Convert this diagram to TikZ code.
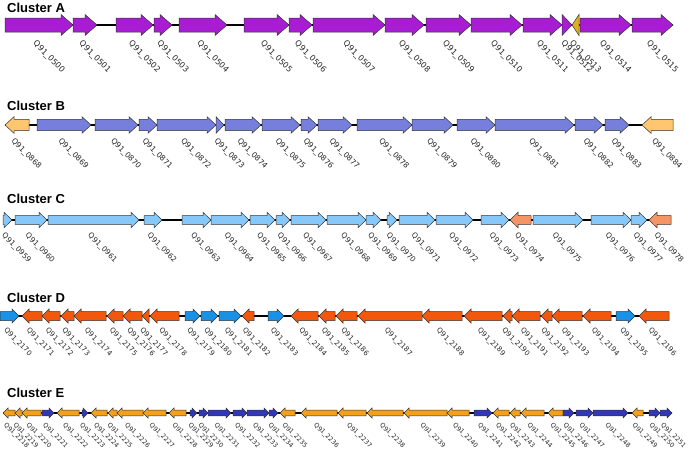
\documentclass[tikz,border=0pt]{standalone}
\usepackage{fontspec}
\setmainfont{DejaVu Sans}
\newfontfamily\titlefont{Liberation Sans}
\usetikzlibrary{positioning}
\definecolor{PurpleA}{RGB}{168, 28, 212}
\definecolor{GoldA}{RGB}{222, 176, 30}
\definecolor{BlueB}{RGB}{118, 128, 220}
\definecolor{TanB}{RGB}{255, 198, 112}
\definecolor{SkyC}{RGB}{135, 200, 250}
\definecolor{SalmonC}{RGB}{245, 148, 100}
\definecolor{OrangeD}{RGB}{242, 88, 12}
\definecolor{BlueD}{RGB}{25, 145, 230}
\definecolor{OrangeE}{RGB}{245, 160, 25}
\definecolor{NavyE}{RGB}{50, 55, 185}

% row settings: centre y, body half height, head half height, head length, label size
\newcommand{\setrow}[5]{\def\rowy{#1}\def\bodyh{#2}\def\headh{#3}\def\headlen{#4}\def\lblsize{#5}}
% forward gene: start, end, colour, number
\newcommand{\fgene}[4]{%
  \pgfmathsetmacro{\hx}{max(#1,#2-\headlen)}
  \filldraw[gene, fill=#3] (#1,\rowy-\bodyh) -- (\hx,\rowy-\bodyh) -- (\hx,\rowy-\headh) -- (#2,\rowy)
    -- (\hx,\rowy+\headh) -- (\hx,\rowy+\bodyh) -- (#1,\rowy+\bodyh) -- cycle;
  \node[lbl] (g#4) at ({(#1+#2)/2-2},\rowy+\headh+4) {Q91\_#4};}
% reverse gene: start, end, colour, number
\newcommand{\rgene}[4]{%
  \pgfmathsetmacro{\hx}{min(#2,#1+\headlen)}
  \filldraw[gene, fill=#3] (#1,\rowy) -- (\hx,\rowy-\headh) -- (\hx,\rowy-\bodyh) -- (#2,\rowy-\bodyh)
    -- (#2,\rowy+\bodyh) -- (\hx,\rowy+\bodyh) -- (\hx,\rowy+\headh) -- cycle;
  \node[lbl] (g#4) at ({(#1+#2)/2-2},\rowy+\headh+4) {Q91\_#4};}

\begin{document}
\begin{tikzpicture}[x=1pt, y=-1pt,
    gene/.style={draw=black!80, line width=0.5pt, line join=miter},
    lbl/.style={rotate=-45, anchor=north west, inner sep=0pt, text=black!85,
      font=\fontsize{\lblsize}{\lblsize}\selectfont},
    title/.style={anchor=base west, inner sep=0pt, font=\titlefont\fontsize{13}{13}\selectfont\bfseries},
    backbone/.style={line width=1.2pt, black}
  ]
  \useasboundingbox (0,0) rectangle (696,458);

  % Cluster A
  \node[title] (titleA) at (7,12) {Cluster A};
  \setrow{25}{7}{10.5}{12}{8}
  \coordinate (Astart) at (5,\rowy);
  \coordinate (Aend) at (673,\rowy);
  \draw[backbone] (Astart) -- (Aend);
  \fgene{5}{73}{PurpleA}{0500}
  \fgene{73}{97}{PurpleA}{0501}
  \fgene{116}{153}{PurpleA}{0502}
  \fgene{154}{172}{PurpleA}{0503}
  \fgene{179}{227}{PurpleA}{0504}
  \fgene{244}{289}{PurpleA}{0505}
  \fgene{289}{312}{PurpleA}{0506}
  \fgene{313}{385}{PurpleA}{0507}
  \fgene{385}{424}{PurpleA}{0508}
  \fgene{426}{471}{PurpleA}{0509}
  \fgene{471}{522}{PurpleA}{0510}
  \fgene{523}{562}{PurpleA}{0511}
  \fgene{562}{572}{PurpleA}{0512}
  \rgene{572}{579}{GoldA}{0513}
  \fgene{580}{631}{PurpleA}{0514}
  \fgene{632}{673}{PurpleA}{0515}

  % Cluster B
  \node[title] (titleB) at (7,110) {Cluster B};
  \setrow{125}{5.7}{8.3}{9}{7.6}
  \coordinate (Bstart) at (5,\rowy);
  \coordinate (Bend) at (673,\rowy);
  \draw[backbone] (Bstart) -- (Bend);
  \rgene{5}{29}{TanB}{0868}
  \fgene{37}{91}{BlueB}{0869}
  \fgene{95}{138}{BlueB}{0870}
  \fgene{139}{157}{BlueB}{0871}
  \fgene{157}{216}{BlueB}{0872}
  \fgene{216}{224}{BlueB}{0873}
  \fgene{225}{261}{BlueB}{0874}
  \fgene{262}{300}{BlueB}{0875}
  \fgene{301}{317}{BlueB}{0876}
  \fgene{318}{352}{BlueB}{0877}
  \fgene{357}{412}{BlueB}{0878}
  \fgene{412}{453}{BlueB}{0879}
  \fgene{457}{495}{BlueB}{0880}
  \fgene{495}{574}{BlueB}{0881}
  \fgene{575}{603}{BlueB}{0882}
  \fgene{605}{629}{BlueB}{0883}
  \rgene{642}{673}{TanB}{0884}

  % Cluster C
  \node[title] (titleC) at (7,203) {Cluster C};
  \setrow{220}{4.4}{7.8}{8}{7.4}
  \coordinate (Cstart) at (3,\rowy);
  \coordinate (Cend) at (671,\rowy);
  \draw[backbone] (Cstart) -- (Cend);
  \fgene{3}{12}{SkyC}{0959}
  \fgene{15}{47}{SkyC}{0960}
  \fgene{48}{139}{SkyC}{0961}
  \fgene{144}{162}{SkyC}{0962}
  \fgene{182}{211}{SkyC}{0963}
  \fgene{211}{249}{SkyC}{0964}
  \fgene{250}{275}{SkyC}{0965}
  \fgene{276}{290}{SkyC}{0966}
  \fgene{291}{326}{SkyC}{0967}
  \fgene{327}{366}{SkyC}{0968}
  \fgene{366}{381}{SkyC}{0969}
  \fgene{387}{397}{SkyC}{0970}
  \fgene{399}{435}{SkyC}{0971}
  \fgene{436}{473}{SkyC}{0972}
  \fgene{481}{509}{SkyC}{0973}
  \rgene{510}{531}{SalmonC}{0974}
  \fgene{533}{583}{SkyC}{0975}
  \fgene{591}{631}{SkyC}{0976}
  \fgene{631}{647}{SkyC}{0977}
  \rgene{649}{671}{SalmonC}{0978}

  % Cluster D
  \node[title] (titleD) at (7,302) {Cluster D};
  \setrow{316}{4.5}{7}{7}{7}
  \coordinate (Dstart) at (0,\rowy);
  \coordinate (Dend) at (669,\rowy);
  \draw[backbone] (Dstart) -- (Dend);
  \fgene{0}{19}{BlueD}{2170}
  \rgene{22}{42}{OrangeD}{2171}
  \rgene{42}{60}{OrangeD}{2172}
  \rgene{61}{74}{OrangeD}{2173}
  \rgene{74}{106}{OrangeD}{2174}
  \rgene{107}{123}{OrangeD}{2175}
  \rgene{123}{142}{OrangeD}{2176}
  \rgene{142}{149}{OrangeD}{2177}
  \rgene{150}{179}{OrangeD}{2178}
  \fgene{185}{200}{BlueD}{2179}
  \fgene{201}{218}{BlueD}{2180}
  \fgene{219}{241}{BlueD}{2181}
  \rgene{242}{254}{OrangeD}{2182}
  \fgene{268}{284}{BlueD}{2183}
  \rgene{291}{318}{OrangeD}{2184}
  \rgene{319}{335}{OrangeD}{2185}
  \rgene{336}{357}{OrangeD}{2186}
  \rgene{358}{422}{OrangeD}{2187}
  \rgene{422}{462}{OrangeD}{2188}
  \rgene{464}{502}{OrangeD}{2189}
  \rgene{503}{512}{OrangeD}{2190}
  \rgene{512}{540}{OrangeD}{2191}
  \rgene{541}{552}{OrangeD}{2192}
  \rgene{552}{582}{OrangeD}{2193}
  \rgene{583}{611}{OrangeD}{2194}
  \fgene{616}{635}{BlueD}{2195}
  \rgene{639}{669}{OrangeD}{2196}

  % Cluster E
  \node[title] (titleE) at (7,397) {Cluster E};
  \setrow{413}{2.9}{5}{5}{6.3}
  \coordinate (Estart) at (3,\rowy);
  \coordinate (Eend) at (672,\rowy);
  \draw[backbone] (Estart) -- (Eend);
  \rgene{3}{15}{OrangeE}{2218}
  \rgene{15}{22}{OrangeE}{2219}
  \rgene{22}{41}{OrangeE}{2220}
  \fgene{42}{54}{NavyE}{2221}
  \rgene{57}{79}{OrangeE}{2222}
  \fgene{82}{88}{NavyE}{2223}
  \rgene{91}{107}{OrangeE}{2224}
  \rgene{108}{117}{OrangeE}{2225}
  \rgene{117}{143}{OrangeE}{2226}
  \rgene{143}{166}{OrangeE}{2227}
  \rgene{169}{186}{OrangeE}{2228}
  \fgene{190}{197}{NavyE}{2229}
  \fgene{199}{208}{NavyE}{2230}
  \fgene{208}{231}{NavyE}{2231}
  \fgene{233}{247}{NavyE}{2232}
  \fgene{247}{269}{NavyE}{2233}
  \fgene{269}{278}{NavyE}{2234}
  \rgene{280}{295}{OrangeE}{2235}
  \rgene{301}{337}{OrangeE}{2236}
  \rgene{338}{366}{OrangeE}{2237}
  \rgene{367}{403}{OrangeE}{2238}
  \rgene{404}{447}{OrangeE}{2239}
  \rgene{447}{469}{OrangeE}{2240}
  \fgene{474}{492}{NavyE}{2241}
  \rgene{493}{509}{OrangeE}{2242}
  \rgene{510}{520}{OrangeE}{2243}
  \rgene{521}{544}{OrangeE}{2244}
  \rgene{548}{563}{OrangeE}{2245}
  \fgene{563}{574}{NavyE}{2246}
  \fgene{576}{593}{NavyE}{2247}
  \fgene{593}{628}{NavyE}{2248}
  \rgene{632}{643}{OrangeE}{2249}
  \fgene{649}{660}{NavyE}{2250}
  \fgene{660}{672}{NavyE}{2251}
\end{tikzpicture}
\end{document}
